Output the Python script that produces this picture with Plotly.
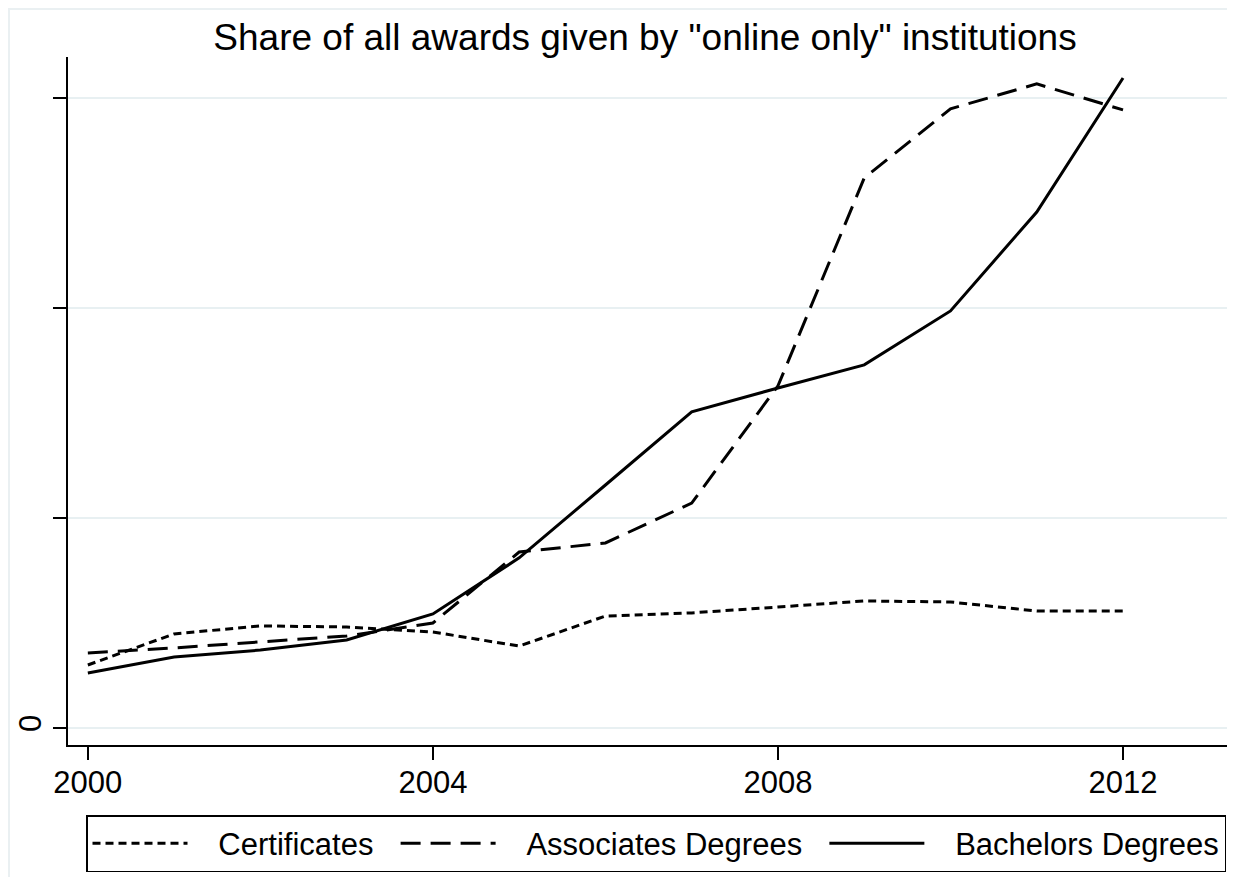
import plotly.graph_objects as go

years = list(range(2000, 2013))
certificates = [0.0300, 0.0448, 0.0486, 0.0481, 0.0457, 0.0390, 0.0533, 0.0548, 0.0576, 0.0605, 0.0600, 0.0557, 0.0557]
associates = [0.0357, 0.0381, 0.0410, 0.0438, 0.0500, 0.0838, 0.0881, 0.1071, 0.1629, 0.2619, 0.2948, 0.3067, 0.2943]
bachelors = [0.0262, 0.0338, 0.0371, 0.0419, 0.0543, 0.0810, 0.1157, 0.1505, 0.1619, 0.1729, 0.1986, 0.2457, 0.3095]

series_names = ["Certificates", "Associates Degrees", "Bachelors Degrees"]
x_ticks = [2000, 2004, 2008, 2012]
y_ticks = [0, 0.1, 0.2, 0.3]
y_ticktext = ["0", "", "", ""]

FONT = "Liberation Sans, Arial, sans-serif"
NB = "\u00a0"

def legend_label(name, last=False):
    return NB * 3 + name + ("" if last else NB * 2)

# page body adds an 8px offset; margins below compensate
L, R, T, B = 60, 13, 49, 140
W, H = 1235, 877
PW, PH = W - L - R, H - T - B

fig = go.Figure()
fig.add_trace(go.Scatter(x=years, y=certificates, mode="lines", name=legend_label(series_names[0]),
                         line=dict(color="black", width=3, dash="8px,5px")))
fig.add_trace(go.Scatter(x=years, y=associates, mode="lines", name=legend_label(series_names[1]),
                         line=dict(color="black", width=3, dash="20px,10px")))
fig.add_trace(go.Scatter(x=years, y=bachelors, mode="lines", name=legend_label(series_names[2], True),
                         line=dict(color="black", width=3)))

fig.update_layout(
    width=W, height=H,
    paper_bgcolor="white", plot_bgcolor="white",
    margin=dict(l=L, r=R, t=T, b=B, autoexpand=False),
    font=dict(family=FONT, color="black", size=30),
    title=dict(text='Share of all awards given by "online only" institutions',
               x=0.5158, xanchor="center", y=1 - 29 / H, yanchor="middle",
               font=dict(size=37, family=FONT, color="black")),
    showlegend=True,
    legend=dict(orientation="h", x=18 / PW, xanchor="left", y=-70 / PH, yanchor="top",
                bordercolor="black", borderwidth=1.5, bgcolor="white",
                font=dict(size=31, family=FONT, color="black"),
                itemwidth=95, tracegroupgap=0),
    xaxis=dict(range=[1999.77, 2013.24], tickvals=x_ticks, showgrid=False, zeroline=False,
               showline=True, linecolor="black", linewidth=2, automargin=False,
               ticks="outside", ticklen=13, tickwidth=2, tickcolor="black",
               ticklabelstandoff=-4,
               tickfont=dict(size=31, family=FONT, color="black")),
    yaxis=dict(range=[-0.0081, 0.3195], tickvals=y_ticks, ticktext=y_ticktext,
               showgrid=True, gridcolor="#e8f0f2", gridwidth=2, zeroline=False,
               showline=True, linecolor="black", linewidth=2, automargin=False,
               ticks="outside", ticklen=13, tickwidth=2, tickcolor="black",
               tickangle=-90, tickfont=dict(size=31, family=FONT, color="black")),
    shapes=[dict(type="rect", xref="paper", yref="paper",
                 x0=-(L - 1) / PW, x1=(PW + R + 20) / PW, y0=-(B + 20) / PH, y1=(PH + T - 1) / PH,
                 line=dict(color="#eaf0f2", width=2), fillcolor="rgba(0,0,0,0)", layer="below")],
)

fig.write_html("out.html")
